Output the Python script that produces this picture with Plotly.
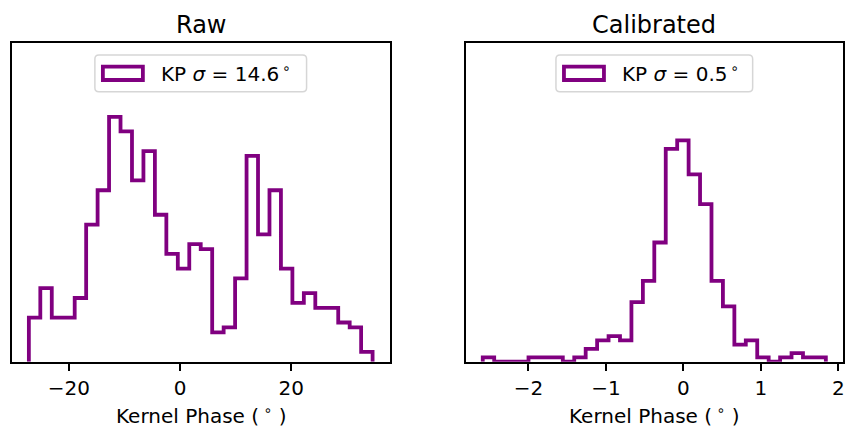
import numpy as np
import plotly.graph_objects as go

# Kernel-phase histograms, 30 equal-width bins per panel
raw_counts = [9, 15, 9, 9, 13, 28, 35, 50, 47, 37, 43, 30, 22, 19, 24, 23,
              6, 7, 17, 42, 26, 35, 19, 12, 14, 11, 11, 8, 7, 2]
raw_lo, raw_hi = -27.2, 34.65

cal_counts = [1, 0, 0, 0, 1, 1, 1, 0, 1, 3, 5, 6, 5, 14, 19, 28, 50, 52, 44,
              37, 19, 13, 4, 5, 1, 0, 1, 2, 1, 1]
cal_lo, cal_hi = -2.59, 1.84

raw_ticks = [-20, 0, 20]
cal_ticks = [-2, -1, 0, 1, 2]
titles = ["Raw", "Calibrated"]
legend_labels = ["KP <i>σ</i> = 14.6<sup>\u2009∘</sup>",
                 "KP <i>σ</i> = 0.5<sup>\u2009∘</sup>"]
x_label = "Kernel Phase (<sup> ∘</sup> )"
y_tops = [65, 74.8]

PURPLE = "#800080"
FONT = "DejaVu Sans"
W, H = 850, 431


def step_outline(counts, lo, hi):
    """Outline of a step histogram, closed down to zero at both ends."""
    edges = np.linspace(lo, hi, len(counts) + 1)
    x = np.concatenate([[edges[0]], edges])
    y = np.concatenate([[0], np.asarray(counts, float), [0]])
    return x, y


def padded(lo, hi, frac=0.05):
    span = hi - lo
    return [lo - frac * span, hi + frac * span]


fig = go.Figure()

panels = [
    dict(counts=raw_counts, lo=raw_lo, hi=raw_hi, ticks=raw_ticks, xa="x", ya="y",
         dom=[11.7 / W, 390.7 / W], legw=211.7),
    dict(counts=cal_counts, lo=cal_lo, hi=cal_hi, ticks=cal_ticks, xa="x2", ya="y2",
         dom=[466.7 / W, 845 / W], legw=196.7),
]
ydom = [1 - 361.7 / H, 1 - 43.3 / H]

shapes, annotations = [], []
for i, p in enumerate(panels):
    x, y = step_outline(p["counts"], p["lo"], p["hi"])
    fig.add_trace(go.Scatter(x=x, y=y, mode="lines", line_shape="hv",
                             line=dict(color=PURPLE, width=3.8),
                             xaxis=p["xa"], yaxis=p["ya"], showlegend=False,
                             hoverinfo="skip"))
    sfx = "" if i == 0 else "2"
    fig.update_layout(**{
        "xaxis" + sfx: dict(domain=p["dom"], range=padded(p["lo"], p["hi"]),
                            tickvals=p["ticks"], ticks="outside", ticklen=7,
                            tickwidth=1.6, tickcolor="black", showline=True,
                            linecolor="black", linewidth=1.6, mirror=True,
                            showgrid=False, zeroline=False,
                            tickfont=dict(family=FONT, size=20, color="black"),
                            anchor="y" + sfx),
        "yaxis" + sfx: dict(domain=ydom, range=[0, y_tops[i]], showticklabels=False,
                            ticks="", showline=True, linecolor="black",
                            linewidth=1.6, mirror=True, showgrid=False,
                            zeroline=False, anchor="x" + sfx),
    })

    xr, yr = p["xa"] + " domain", p["ya"] + " domain"
    # panel title
    annotations.append(dict(text=titles[i], xref=xr, yref=yr, x=0.5, y=1,
                            xanchor="center", yanchor="bottom", yshift=2,
                            showarrow=False,
                            font=dict(family=FONT, size=24, color="black")))
    # x-axis label
    annotations.append(dict(text=x_label, xref=xr, yref=yr, x=0.5, y=0,
                            xanchor="center", yanchor="top", yshift=-38,
                            showarrow=False,
                            font=dict(family=FONT, size=20, color="black")))

    # legend frame (rounded), patch and label
    hw = p["legw"] / 2
    t, b, r = -11.7, -48.4, 4
    path = (f"M {-hw + r},{t} L {hw - r},{t} Q {hw},{t} {hw},{t - r} "
            f"L {hw},{b + r} Q {hw},{b} {hw - r},{b} L {-hw + r},{b} "
            f"Q {-hw},{b} {-hw},{b + r} L {-hw},{t - r} Q {-hw},{t} {-hw + r},{t} Z")
    shapes.append(dict(type="path", path=path, xref=xr, yref=yr,
                       xsizemode="pixel", ysizemode="pixel", xanchor=0.5, yanchor=1,
                       line=dict(color="#d6d6d6", width=1.5), fillcolor="white",
                       layer="above"))
    shapes.append(dict(type="rect", xref=xr, yref=yr, xsizemode="pixel",
                       ysizemode="pixel", xanchor=0.5, yanchor=1,
                       x0=-hw + 8, x1=-hw + 48, y0=-23.4, y1=-36.7,
                       line=dict(color=PURPLE, width=3.8), fillcolor="white",
                       layer="above"))
    annotations.append(dict(text=legend_labels[i], xref=xr, yref=yr, x=0.5, y=1,
                            xanchor="left", yanchor="middle", xshift=-hw + 64,
                            yshift=-30, showarrow=False,
                            font=dict(family=FONT, size=20, color="black")))

fig.update_layout(width=W, height=H, margin=dict(l=0, r=0, t=0, b=0),
                  paper_bgcolor="white", plot_bgcolor="white",
                  shapes=shapes, annotations=annotations, showlegend=False)

fig.write_html("out.html")
